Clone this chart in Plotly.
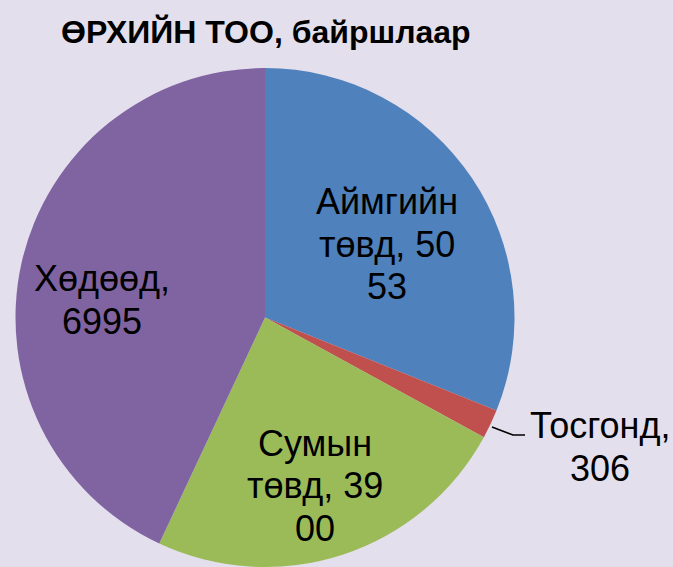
import plotly.graph_objects as go

# ---- data ----
categories = ["Аймгийн төвд", "Тосгонд", "Сумын төвд", "Хөдөөд"]
values = [5053, 306, 3900, 6995]
colors = ["#4F81BD", "#C0504D", "#9BBB59", "#8064A2"]
title_text = "ӨРХИЙН ТОО, байршлаар"

W, H = 673, 567


def wrap(text, width=8):
    """Character wrap like the spreadsheet label (numbers may be split)."""
    lines, cur = [], ""
    for tok in text.split(" "):
        cand = tok if not cur else cur + " " + tok
        if len(cand) <= width:
            cur = cand
            continue
        if tok.isdigit() and cur:
            room = width - len(cur) - 1
            if room > 0:
                cur = cur + " " + tok[:room]
                tok = tok[room:]
        if cur:
            lines.append(cur)
        cur = tok
    lines.append(cur)
    return lines


label_lines = [wrap(f"{c}, {v}") for c, v in zip(categories, values)]

# label block centres in pixels (layout) and line pitch
label_pos = [(387, 244), (600, 447), (315, 485.5), (102, 300)]
LINE = 42.5

fig = go.Figure(
    go.Pie(
        labels=categories,
        values=values,
        sort=False,
        direction="clockwise",
        rotation=0,
        marker=dict(colors=colors, line=dict(width=0)),
        textinfo="none",
        hoverinfo="label+value",
        showlegend=False,
        domain=dict(x=[15.5 / W, 514.5 / W], y=[0, 1 - 68 / H]),
    )
)

annotations = []
for lines, (px, py) in zip(label_lines, label_pos):
    n = len(lines)
    for i, ln in enumerate(lines):
        ly = py + (i - (n - 1) / 2) * LINE
        annotations.append(
            dict(
                x=px / W, y=1 - ly / H, xref="paper", yref="paper",
                text=ln, showarrow=False, xanchor="center", yanchor="middle",
                font=dict(family="Liberation Sans, Arial", size=36, color="#000000"),
            )
        )
annotations.append(
    dict(
        x=266 / W, y=1 - 32 / H, xref="paper", yref="paper",
        text=f"<b>{title_text}</b>", showarrow=False, xanchor="center", yanchor="middle",
        font=dict(family="Liberation Sans, Arial", size=32, color="#000000"),
    )
)

leader = [(492, 427), (513, 435), (525, 435)]
path = "M " + " L ".join(f"{x / W},{1 - y / H}" for x, y in leader)
fig.update_layout(
    width=W, height=H,
    margin=dict(l=0, r=0, t=0, b=0),
    paper_bgcolor="#E4DFEC",
    plot_bgcolor="#E4DFEC",
    annotations=annotations,
    shapes=[dict(type="path", xref="paper", yref="paper", path=path,
                 line=dict(color="#000000", width=1.5))],
)

fig.write_html(
    "out.html",
    config={"displayModeBar": False},
    post_script="document.body.style.margin='0';document.body.style.overflow='hidden';",
)
